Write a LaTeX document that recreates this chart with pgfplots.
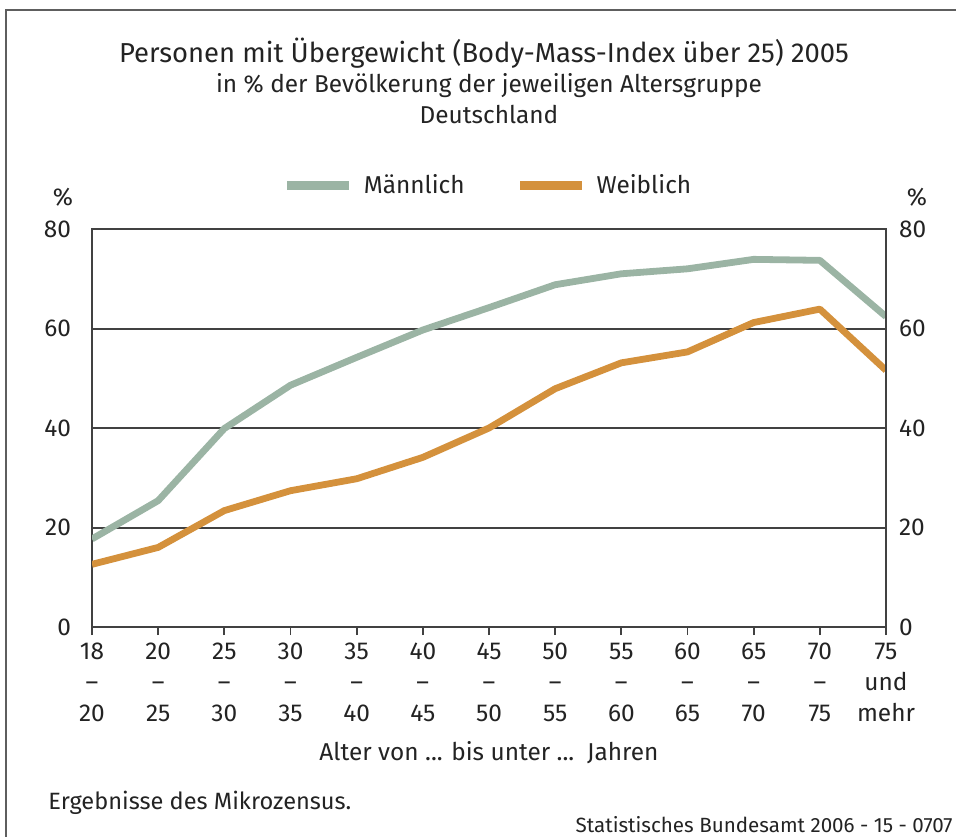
\documentclass[border=0pt]{standalone}
\usepackage{fontspec}
\setmainfont{Fira Sans}
\usepackage{pgfplots}
\pgfplotsset{compat=1.18}
\definecolor{maenn}{RGB}{155,180,164}
\definecolor{weib}{RGB}{212,145,60}
\definecolor{txt}{RGB}{35,35,35}
\definecolor{ax}{RGB}{65,65,65}
\newcommand{\fs}{\fontsize{12.2}{14}\selectfont}

\begin{document}
\begin{tikzpicture}
\path[use as bounding box] (0,0) rectangle (478pt,-418pt);
\begin{scope}[x=0.5pt,y=-0.5pt, every node/.style={text=txt, inner sep=0pt}]
\draw[ax!85, line width=1.1pt] (990,10) -- (6,10) -- (6,870);
\node[font=\fontsize{13.7}{16}\selectfont, anchor=base] at (484,62) {Personen mit Übergewicht (Body-Mass-Index über 25) 2005};
\node[font=\fs, anchor=base] at (489,92) {in \% der Bevölkerung der jeweiligen Altersgruppe};
\node[font=\fs, anchor=base] at (489,123) {Deutschland};
\node[font=\fs] at (63,197) {\%};
\node[font=\fs] at (917,197) {\%};
\node[font=\fontsize{11.8}{14}\selectfont, anchor=west] at (48,803) {Ergebnisse des Mikrozensus.};
\node[font=\fontsize{10.3}{12}\selectfont, anchor=east] at (953,825) {Statistisches Bundesamt 2006 - 15 - 0707};
\end{scope}

\begin{axis}[
  at={(46pt,-313.5pt)}, anchor=south west,
  scale only axis, width=397pt, height=199pt,
  xmin=0, xmax=12, ymin=0, ymax=80,
  axis line style={ax, line width=1pt},
  xtick={0,...,12},
  xticklabels={{18\\–\\20},{20\\–\\25},{25\\–\\30},{30\\–\\35},{35\\–\\40},{40\\–\\45},{45\\–\\50},{50\\–\\55},{55\\–\\60},{60\\–\\65},{65\\–\\70},{70\\–\\75},{75\\und\\mehr}},
  ytick={0,20,40,60,80},
  ymajorgrids, grid style={ax, line width=1pt},
  tick pos=left, tick align=outside, major tick length=4pt,
  xtick style={ax, line width=0.9pt},
  ytick style={draw=none},
  xticklabel style={align=center, text=txt, font=\fontsize{12.2}{15.5}\selectfont, yshift=-0.5pt},
  yticklabel style={text=txt, font=\fs, xshift=-3pt},
  /pgf/number format/assume math mode=true,
  xlabel={Alter von ... bis unter ...\ \ Jahren},
  xlabel style={at={(axis description cs:0.5,0)}, anchor=center, yshift=-63pt, text=txt, font=\fs},
  legend columns=2,
  legend style={draw=none, fill=none, at={(0.5,1)}, anchor=center, yshift=22pt, font=\fs, text=txt,
    /tikz/every odd column/.append style={column sep=3pt},
    /tikz/every even column/.append style={column sep=23.5pt}},
  legend image code/.code={\draw[#1, line width=4.5pt, line cap=butt] (0pt,0pt) -- (31pt,0pt);},
]
\addplot[maenn, line width=3.4pt, line join=round] coordinates {
(0,17.7) (1,25.4) (2,39.9) (3,48.6) (4,54.2) (5,59.7) (6,64.2) (7,68.8) (8,71.0) (9,72.0) (10,73.9) (11,73.7) (12,62.4)};
\addlegendentry{Männlich}
\addplot[weib, line width=3.4pt, line join=round] coordinates {
(0,12.6) (1,16.0) (2,23.4) (3,27.4) (4,29.8) (5,34.1) (6,40.0) (7,47.9) (8,53.1) (9,55.3) (10,61.2) (11,63.9) (12,51.6)};
\addlegendentry{Weiblich}
\end{axis}

\begin{axis}[
  at={(46pt,-313.5pt)}, anchor=south west,
  scale only axis, width=397pt, height=199pt,
  xmin=0, xmax=12, ymin=0, ymax=80,
  hide x axis, axis y line*=right,
  axis line style={ax, line width=1pt},
  ytick={0,20,40,60,80},
  ytick style={draw=none},
  yticklabel style={text=txt, font=\fs, xshift=3pt},
  /pgf/number format/assume math mode=true,
]
\addplot[draw=none] coordinates {(0,0) (12,80)};
\end{axis}
\end{tikzpicture}
\end{document}
